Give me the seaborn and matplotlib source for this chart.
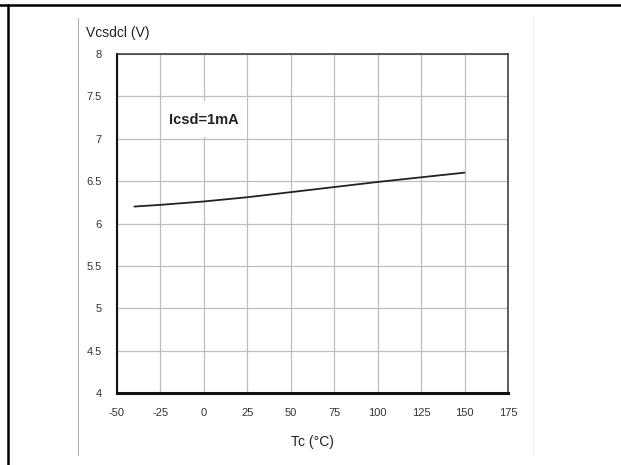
import numpy as np
import pandas as pd
import matplotlib
matplotlib.use("Agg")
import matplotlib.pyplot as plt
from matplotlib.lines import Line2D
from matplotlib.patches import Rectangle
import seaborn as sns

# data
tc = [-40, -25, 0, 25, 50, 75, 100, 125, 150]
vcsdcl = [6.20, 6.22, 6.26, 6.31, 6.37, 6.43, 6.49, 6.545, 6.60]
x_ticks = [-50, -25, 0, 25, 50, 75, 100, 125, 150, 175]
y_ticks = [4, 4.5, 5, 5.5, 6, 6.5, 7, 7.5, 8]
y_tick_labels = ["4", "4.5", "5", "5.5", "6", "6.5", "7", "7.5", "8"]
note_text = "Icsd=1mA"

df = pd.DataFrame({"Tc": tc, "Vcsdcl": vcsdcl})

sns.set_style("white")
plt.rcParams["font.family"] = ["Liberation Sans", "DejaVu Sans"]
plt.rcParams["axes.unicode_minus"] = False

fig = plt.figure(figsize=(6.21, 4.65), dpi=100)
ax = fig.add_axes([0.1884, 0.1548, 0.6296, 0.7291])

sns.lineplot(data=df, x="Tc", y="Vcsdcl", ax=ax, color="#222222",
             linewidth=1.3, zorder=4)

ax.set_xlim(-50, 175)
ax.set_ylim(4, 8)
ax.set_xticks(x_ticks)
ax.set_yticks(y_ticks)
ax.set_yticklabels(y_tick_labels)
ax.grid(True, color="#bdbdbd", linewidth=0.9)
ax.set_axisbelow(True)
ax.tick_params(axis="both", length=0, labelsize=8, colors="#333333")
ax.tick_params(axis="x", pad=11)
ax.tick_params(axis="y", pad=11)
ax.set_xlabel("Tc (°C)", fontsize=10, color="#222222", labelpad=12)
ax.set_ylabel("")

for side in ["top", "right"]:
    ax.spines[side].set_color("#333333")
    ax.spines[side].set_linewidth(1.1)
ax.spines["left"].set_color("#111111")
ax.spines["left"].set_linewidth(1.5)
ax.spines["bottom"].set_color("#111111")
ax.spines["bottom"].set_linewidth(2.2)

# white box behind the note, hiding the grid
ax.add_patch(Rectangle((-24, 7.02), 49, 0.42, facecolor="white",
                       edgecolor="none", zorder=2))
ax.text(0, 7.22, note_text, ha="center", va="center", fontsize=10.5,
        fontweight="bold", color="#222222", zorder=3)

fig.text(86 / 621, 1 - 33 / 465, "Vcsdcl (V)", ha="left", va="center",
         fontsize=10, color="#222222")

# page frame lines around the chart
fig.add_artist(Line2D([0, 1], [1 - 5 / 465, 1 - 5 / 465], color="black",
                      linewidth=1.8, transform=fig.transFigure))
fig.add_artist(Line2D([7.5 / 621, 7.5 / 621], [0, 1 - 5 / 465], color="black",
                      linewidth=1.8, transform=fig.transFigure))
fig.add_artist(Line2D([78 / 621, 78 / 621], [1 - 455 / 465, 1 - 18 / 465],
                      color="#b0b0b0", linewidth=0.8, transform=fig.transFigure))
fig.add_artist(Line2D([533 / 621, 533 / 621], [1 - 455 / 465, 1 - 18 / 465],
                      color="#eeeeee", linewidth=0.8, transform=fig.transFigure))

fig.savefig("out.png", dpi=100)
